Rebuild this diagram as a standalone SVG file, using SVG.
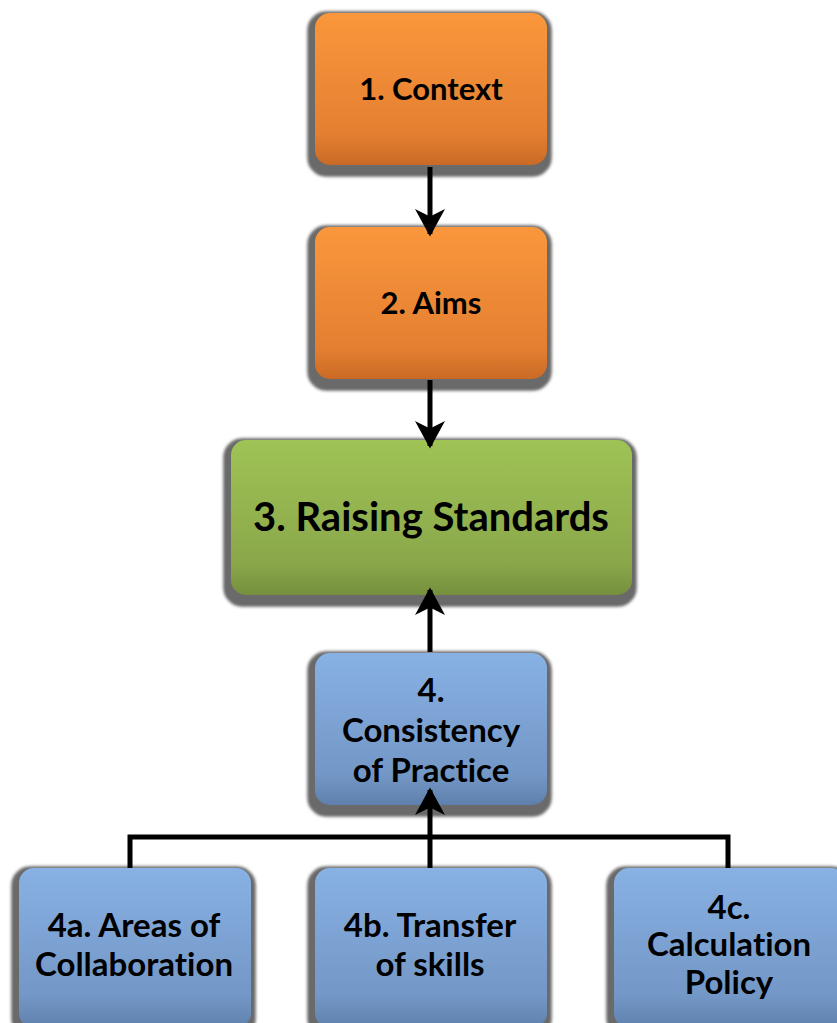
<svg xmlns="http://www.w3.org/2000/svg" width="837" height="1023" viewBox="0 0 837 1023">
<defs>
<linearGradient id="gO" x1="0" y1="0" x2="0" y2="1"><stop offset="0" stop-color="#fa973c"/><stop offset="0.8" stop-color="#e47f31"/><stop offset="1" stop-color="#c96a25"/></linearGradient>
<linearGradient id="gG" x1="0" y1="0" x2="0" y2="1"><stop offset="0" stop-color="#9fc355"/><stop offset="0.8" stop-color="#8aa74a"/><stop offset="1" stop-color="#758f3c"/></linearGradient>
<linearGradient id="gB" x1="0" y1="0" x2="0" y2="1"><stop offset="0" stop-color="#88b1e4"/><stop offset="0.8" stop-color="#7397c6"/><stop offset="1" stop-color="#5f80ac"/></linearGradient>
<filter id="sh" x="-10%" y="-10%" width="120%" height="130%"><feGaussianBlur stdDeviation="1.5"/></filter>
<marker id="ah" markerWidth="6" markerHeight="6" refX="5" refY="3" orient="auto" markerUnits="strokeWidth"><path d="M0,0 L5.5,3 L0,6 L1.5,3 Z" fill="#000"/></marker>
</defs>
<style>
.sh{fill:#6b6b6b;stroke:#333;stroke-width:1;filter:url(#sh)}
.t{font-family:Lato,"Open Sans",sans-serif;font-weight:bold;fill:#000;text-anchor:middle;font-variant-ligatures:none}
.c{stroke:#000;stroke-width:5;fill:none}
</style>
<rect width="837" height="1023" fill="#fff"/>
<g id="n1">
<rect class="sh" x="308" y="12" width="243" height="164" rx="18"/>
<rect x="315" y="13" width="232" height="152" rx="15" fill="url(#gO)"/>
<text class="t" x="431" y="100" font-size="31">1. Context</text>
</g>
<g id="n2">
<rect class="sh" x="308" y="226" width="243" height="164" rx="18"/>
<rect x="315" y="227" width="232" height="152" rx="15" fill="url(#gO)"/>
<text class="t" x="431" y="314" font-size="31">2. Aims</text>
</g>
<g id="n3">
<rect class="sh" x="224" y="439" width="412" height="167" rx="18"/>
<rect x="231" y="440" width="401" height="155" rx="15" fill="url(#gG)"/>
<text class="t" x="431" y="531" font-size="40">3. Raising Standards</text>
</g>
<g id="n4">
<rect class="sh" x="308" y="652" width="243" height="164" rx="18"/>
<rect x="315" y="653" width="232" height="152" rx="15" fill="url(#gB)"/>
<text class="t" x="431" y="702" font-size="33">4.</text>
<text class="t" x="431" y="742" font-size="33">Consistency</text>
<text class="t" x="431" y="782" font-size="33">of Practice</text>
</g>
<g id="n4a">
<rect class="sh" x="12" y="867" width="243" height="170" rx="18"/>
<rect x="19" y="868" width="232" height="160" rx="15" fill="url(#gB)"/>
<text class="t" x="134" y="937" font-size="33">4a. Areas of</text>
<text class="t" x="134" y="976" font-size="33">Collaboration</text>
</g>
<g id="n4b">
<rect class="sh" x="308" y="867" width="243" height="170" rx="18"/>
<rect x="315" y="868" width="232" height="160" rx="15" fill="url(#gB)"/>
<text class="t" x="430" y="937" font-size="33">4b. Transfer</text>
<text class="t" x="430" y="976" font-size="33">of skills</text>
</g>
<g id="n4c">
<rect class="sh" x="607" y="867" width="243" height="170" rx="18"/>
<rect x="614" y="868" width="232" height="160" rx="15" fill="url(#gB)"/>
<text class="t" x="729" y="919" font-size="33">4c.</text>
<text class="t" x="729" y="956" font-size="33">Calculation</text>
<text class="t" x="729" y="994" font-size="33">Policy</text>
</g>
<g id="connectors">
<line class="c" x1="430" y1="167" x2="430" y2="234" marker-end="url(#ah)"/>
<line class="c" x1="430" y1="380" x2="430" y2="446" marker-end="url(#ah)"/>
<line class="c" x1="430" y1="652" x2="430" y2="590" marker-end="url(#ah)"/>
<line class="c" x1="430" y1="868" x2="430" y2="790" marker-end="url(#ah)"/>
<polyline class="c" points="130,868 130,837 728,837 728,868"/>
</g>
</svg>
